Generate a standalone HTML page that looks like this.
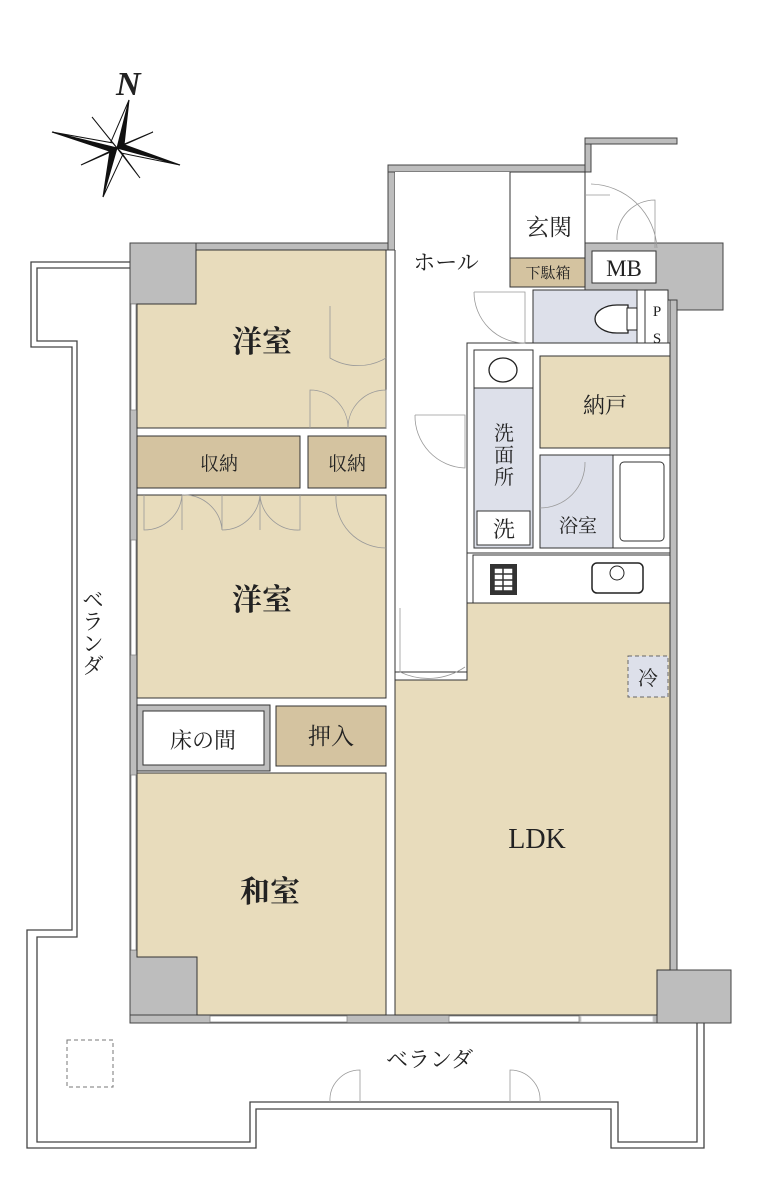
<!DOCTYPE html>
<html><head><meta charset="utf-8"><style>
html,body{margin:0;padding:0;background:#fff;}
svg{display:block;}
text{font-family:"Liberation Serif","Noto Serif CJK SC",serif;fill:#222;}
</style></head><body>
<svg width="762" height="1200" viewBox="0 0 762 1200" xmlns="http://www.w3.org/2000/svg">
<text x="116" y="95" font-size="34" font-style="italic" font-weight="bold">N</text>
<g fill="#111" stroke="#111" stroke-width="1">
<polygon points="129,100 124,145 117,148"/>
<polygon points="129,100 110,144 117,148" fill="#fff"/>
<polygon points="103,197 110,151 117,148"/>
<polygon points="103,197 124,152 117,148" fill="#fff"/>
<polygon points="52,132 112,152 117,148"/>
<polygon points="52,132 113,143 117,148" fill="#fff"/>
<polygon points="180,165 122,144 117,148"/>
<polygon points="180,165 121,153 117,148" fill="#fff"/>
<polygon points="92,117 112,142 117,148"/>
<polygon points="153,132 122,145 117,148"/>
<polygon points="81,165 113,151 117,148"/>
<polygon points="140,178 121,152 117,148"/>
</g>
<g fill="none" stroke="#444" stroke-width="1.3">
<polyline points="130,262 31,262 31,347 72,347 72,930 27,930 27,1148 256,1148 256,1109 611,1109 611,1148 704,1148 704,1023"/>
<polyline points="130,268 37,268 37,341 77,341 77,937 37,937 37,1142 250,1142 250,1102 618,1102 618,1142 697,1142 697,1023"/>
</g>
<rect x="67" y="1040" width="46" height="47" fill="none" stroke="#777" stroke-dasharray="4,3"/>
<g fill="none" stroke="#999" stroke-width="0.8">
<path d="M360,1102 V1070 A30,30 0 0 0 330,1102"/>
<path d="M510,1102 V1070 A30,30 0 0 1 540,1102"/>
</g>
<text x="386" y="1067" font-size="22">ベランダ</text>
<text font-size="22" transform="translate(92,588)" writing-mode="tb">ベランダ</text>

<g fill="#bdbdbd" stroke="#444" stroke-width="1">
<rect x="130" y="243" width="265" height="7"/>
<rect x="388" y="165" width="7" height="85"/>
<rect x="388" y="165" width="202" height="7"/>
<rect x="585" y="138" width="6" height="34"/>
<rect x="585" y="138" width="92" height="6"/>
<rect x="130" y="243" width="7" height="780"/>
<rect x="130" y="1015" width="600" height="8"/>
<rect x="670" y="300" width="7" height="675"/>
<polygon points="130,243 196,243 196,304 130,304"/>
<polygon points="585,243 723,243 723,310 677,310 677,300 657,300 657,290 585,290"/>
<polygon points="130,950 137,950 137,957 197,957 197,1015 130,1015"/>
<polygon points="657,970 731,970 731,1023 657,1023"/>
</g>
<g fill="#fff" stroke="#888" stroke-width="0.8">
<rect x="131" y="304" width="5" height="106"/>
<rect x="131" y="540" width="5" height="115"/>
<rect x="131" y="775" width="5" height="175"/>
<rect x="210" y="1016" width="137" height="6"/>
<rect x="449" y="1016" width="130" height="6"/>
<rect x="581" y="1016" width="72" height="6" stroke="#ccc"/>
</g>

<polygon points="395,172 510,172 510,287 533,287 533,343 467,343 467,672 395,672" fill="#fff"/>
<path d="M395,250 V680 M395,672 H467 M467,553 V603" stroke="#333" fill="none"/>
<g stroke="#333" stroke-width="1">
<polygon points="196,250 386,250 386,428 137,428 137,304 196,304" fill="#e8dcbc"/>
<rect x="137" y="436" width="163" height="52" fill="#d4c3a0"/>
<rect x="308" y="436" width="78" height="52" fill="#d4c3a0"/>
<rect x="137" y="495" width="249" height="203" fill="#e8dcbc"/>
<rect x="137" y="705" width="133" height="66" fill="#bdbdbd"/>
<rect x="143" y="711" width="121" height="54" fill="#fff"/>
<rect x="276" y="706" width="110" height="60" fill="#d4c3a0"/>
<polygon points="137,773 386,773 386,1015 197,1015 197,957 137,957" fill="#e8dcbc"/>
<polygon points="395,680 467,680 467,603 670,603 670,970 657,970 657,1015 395,1015" fill="#e8dcbc"/>
<rect x="510" y="172" width="75" height="86" fill="#fff"/>
<rect x="510" y="258" width="75" height="29" fill="#d4c3a0"/>
<rect x="592" y="251" width="64" height="32" fill="#fff"/>
<rect x="533" y="290" width="104" height="60" fill="#dde0ea"/>
<rect x="645" y="290" width="23" height="60" fill="#fff"/>
<rect x="467" y="343" width="203" height="210" fill="#fff"/>
<rect x="474" y="350" width="59" height="38" fill="#fff"/>
<rect x="474" y="388" width="59" height="160" fill="#dde0ea"/>
<rect x="477" y="511" width="53" height="34" fill="#fff"/>
<rect x="540" y="356" width="130" height="92" fill="#e8dcbc"/>
<rect x="540" y="455" width="73" height="93" fill="#dde0ea"/>
<rect x="613" y="455" width="57" height="93" fill="#fff"/>
<rect x="620" y="462" width="44" height="79" rx="4" fill="#fff"/>
<rect x="473" y="555" width="197" height="48" fill="#fff"/>
</g>
<ellipse cx="503" cy="370" rx="14" ry="12" fill="#fff" stroke="#222" stroke-width="1.3"/>
<path d="M628,305 H617 A22,14 0 0 0 617,333 H628 Z" fill="#fff" stroke="#222" stroke-width="1.3"/>
<rect x="627" y="308" width="10" height="22" fill="#fff" stroke="#222"/>
<rect x="592" y="563" width="51" height="30" rx="5" fill="#fff" stroke="#222" stroke-width="1.5"/>
<circle cx="617" cy="573" r="7" fill="#fff" stroke="#222"/>
<rect x="490" y="564" width="27" height="31" fill="#333"/>
<rect x="494" y="568" width="19" height="23" fill="#fff" stroke="#333" stroke-width="1.5"/>
<path d="M494,574H513M494,580H513M494,586H513M503,568V591" stroke="#333" stroke-width="1.5"/>
<rect x="628" y="656" width="40" height="41" fill="#dde0ea" stroke="#666" stroke-dasharray="4,3"/>
<g fill="none" stroke="#999" stroke-width="0.8">
<path d="M330,306 V358 A55,55 0 0 0 386,358"/>
<path d="M310,428 V390 A38,38 0 0 1 348,428 A38,38 0 0 1 386,390 V428"/>
<path d="M144,495 V530 A38,38 0 0 0 182,495 M182,495 V530 M222,495 V530 A38,38 0 0 0 182,495 M222,530 A38,38 0 0 0 260,495 M260,495 V530 M300,495 V530 A38,38 0 0 1 260,495"/>
<path d="M336,495 A50,50 0 0 0 386,548"/>
<path d="M474,292 H525 V343 A51,51 0 0 1 474,292"/>
<path d="M415,415 H465 V468 A52,52 0 0 1 415,415"/>
<path d="M400,608 V672 A65,65 0 0 0 465,667"/>
<path d="M585,195 H610 M591,184 A68,68 0 0 1 657,248 M617,240 A38,38 0 0 1 655,200 V248"/>
<path d="M540,508 A45,45 0 0 0 585,462"/>
</g>
<g font-size="30" text-anchor="middle" font-weight="bold">
<text x="262" y="352">洋室</text>
<text x="262" y="610">洋室</text>
<text x="270" y="902">和室</text>
<text x="537" y="848" font-size="28" font-weight="normal">LDK</text>
</g>
<g text-anchor="middle">
<text x="219" y="470" font-size="19">収納</text>
<text x="347" y="470" font-size="19">収納</text>
<text x="203" y="748" font-size="22">床の間</text>
<text x="331" y="744" font-size="23">押入</text>
<text x="446" y="270" font-size="22">ホール</text>
<text x="549" y="235" font-size="23">玄関</text>
<text x="548" y="278" font-size="15">下駄箱</text>
<text x="624" y="276" font-size="23">MB</text>
<text x="657" y="316" font-size="15">P</text>
<text x="657" y="343" font-size="15">S</text>
<text x="605" y="413" font-size="22">納戸</text>
<text x="504" y="440" font-size="20">洗</text>
<text x="504" y="462" font-size="20">面</text>
<text x="504" y="484" font-size="20">所</text>
<text x="504" y="537" font-size="22">洗</text>
<text x="578" y="532" font-size="19">浴室</text>
<text x="648" y="685" font-size="20">冷</text>
</g>
</svg>
</body></html>
